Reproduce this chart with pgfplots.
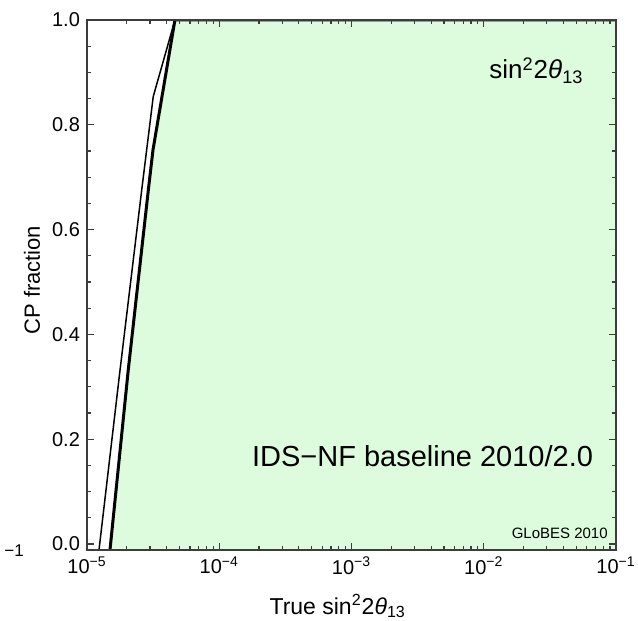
\documentclass[border=0pt]{standalone}
\usepackage{pgfplots}
\pgfplotsset{compat=1.18}
\usepackage{fontspec}
\setmainfont{Liberation Sans}
\definecolor{fillgreen}{RGB}{221,251,221}
\definecolor{framegray}{RGB}{60,60,60}
\begin{document}
\begin{tikzpicture}
\begin{axis}[
  xmode=log,
  width=264.5pt, height=265pt, scale only axis,
  xmin=1e-5, xmax=1e-1,
  ymin=-0.0115, ymax=1,
  xtick={1e-5,1e-4,1e-3,1e-2,1e-1},
  xticklabels={10\textsuperscript{−5},10\textsuperscript{−4},10\textsuperscript{−3},10\textsuperscript{−2},10\textsuperscript{−1}},
  ytick={0,0.2,0.4,0.6,0.8,1.0},
  yticklabels={0.0,0.2,0.4,0.6,0.8,1.0},
  minor y tick num=3,
  tick align=inside,
  major tick length=3.5pt, minor tick length=2pt,
  every tick/.style={framegray, line width=0.6pt},
  axis line style={framegray, line width=0.9pt},
  ticklabel style={font=\fontsize{10}{12}\selectfont},
  every axis x label/.style={at={(axis description cs:0.474,-0.106)}, anchor=center},
  every axis y label/.style={at={(axis description cs:-0.104,0.509)}, rotate=90, anchor=center},
  x label style={font=\fontsize{11.5}{13}\selectfont},
  y label style={font=\fontsize{11}{13}\selectfont},
  xlabel={True sin\textsuperscript{2}2\textit{θ}\textsubscript{13}},
  ylabel={CP fraction},
  axis on top,
]
\addplot[fill=fillgreen, draw=none] coordinates {
  (1.45e-5,-0.03) (1.493e-5,-0.011) (2.051e-5,0.332) (2.911e-5,0.676) (3.155e-5,0.752) (4.624e-5,1.0) (0.1,1.0) (0.1,-0.03)
};
\addplot[black, line width=1.5pt] coordinates {
  (1.45e-5,-0.03) (1.493e-5,-0.011) (2.051e-5,0.332) (2.911e-5,0.676) (3.155e-5,0.752) (4.624e-5,1.0) (0.1,1.0)
};
\addplot[black, line width=0.75pt] coordinates {
  (1.2e-5,-0.03) (1.233e-5,-0.011) (1.778e-5,0.332) (2.594e-5,0.676) (3.170e-5,0.854) (4.624e-5,1.0)
};
\node[anchor=east, font=\fontsize{13}{15}\selectfont] at (rel axis cs:0.952,0.905) {sin\textsuperscript{2}2\textit{θ}\textsubscript{13}};
\node[anchor=east, font=\fontsize{14.5}{17}\selectfont] at (rel axis cs:0.97,0.177) {IDS−NF baseline 2010/2.0};
\node[anchor=east, font=\fontsize{7.5}{9}\selectfont, inner sep=0pt] at (rel axis cs:0.985,0.032) {GLoBES 2010};
\end{axis}
\node[anchor=west, font=\fontsize{8.5}{10}\selectfont, inner sep=0pt] at ([shift={(-41.5pt,-0.5pt)}]current axis.south west) {−1};
\pgfresetboundingbox
\path ([shift={(-43.5pt,-35pt)}]current axis.south west) rectangle ([shift={(11pt,10pt)}]current axis.north east);
\end{tikzpicture}
\end{document}
